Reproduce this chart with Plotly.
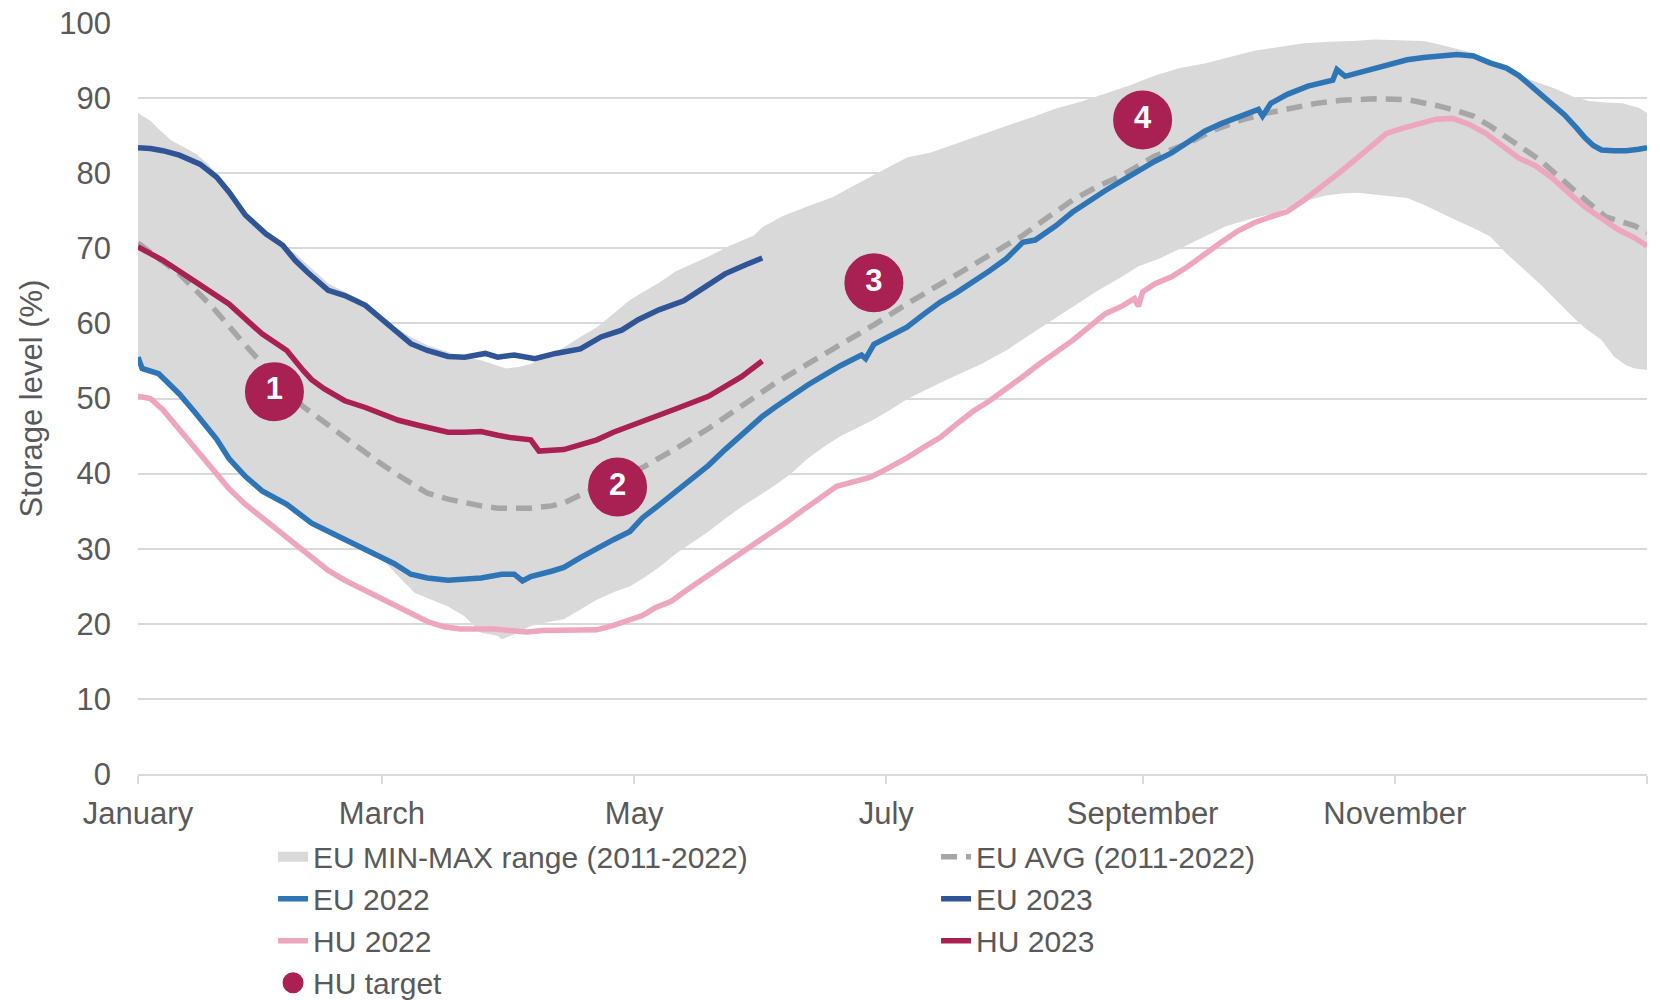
import plotly.graph_objects as go

# day-of-year (0 = 1 January) and storage level (%)
band_max_days = [0, 3, 5, 8, 11, 14, 17, 19, 23, 26, 30, 34, 38, 42, 46, 50, 54, 58, 62, 66, 70, 75, 79,
                 83, 86, 89, 92, 95, 99, 103, 107, 111, 115, 119, 122, 126, 130, 134, 138, 143, 149, 151,
                 156, 162, 168, 174, 180, 186, 192, 198, 204, 210, 216, 222, 228, 234, 240, 246, 252, 258,
                 264, 270, 276, 282, 288, 294, 299, 305, 311, 315, 319, 323, 327, 331, 335, 339, 343, 347,
                 351, 355, 359, 363, 365]
band_max = [88.0, 87.0, 85.9, 84.4, 83.5, 82.6, 81.2, 79.9, 77.3, 74.6, 72.3, 70.8, 69.3, 67.3, 65.3, 64.2,
            63.1, 61.0, 59.5, 58.2, 57.1, 56.2, 55.5, 55.1, 54.5, 54.0, 54.2, 54.6, 55.6, 56.8, 58.2, 59.5,
            61.3, 63.1, 64.1, 65.4, 66.9, 67.9, 68.9, 70.3, 71.7, 72.8, 74.3, 75.6, 76.8, 78.6, 80.3, 82.1,
            82.8, 84.0, 85.2, 86.3, 87.4, 88.6, 89.5, 90.6, 91.7, 93.0, 94.0, 94.6, 95.4, 96.3, 96.8, 97.3,
            97.5, 97.6, 97.8, 97.7, 97.6, 97.1, 96.6, 96.0, 95.0, 93.8, 92.8, 92.0, 91.2, 90.2, 89.6, 89.4,
            89.3, 88.7, 88.0]

band_min_days = [0, 1, 5, 10, 14, 19, 22, 26, 30, 36, 42, 50, 58, 60, 63, 67, 71, 75, 79, 83, 87, 88, 91,
                 95, 99, 103, 107, 111, 115, 119, 122, 126, 130, 134, 138, 142, 146, 150, 154, 158, 162,
                 166, 170, 174, 178, 182, 186, 190, 196, 204, 210, 216, 222, 226, 232, 238, 242, 247, 253,
                 258, 263, 269, 275, 279, 283, 287, 291, 295, 299, 303, 307, 311, 315, 319, 323, 327, 331,
                 335, 339, 343, 347, 350, 354, 357, 360, 362, 365]
band_min = [55.1, 53.6, 52.9, 50.2, 47.6, 44.2, 41.6, 39.2, 37.3, 35.5, 33.0, 30.8, 28.8, 28.1, 26.3, 24.1,
            23.2, 22.3, 21.0, 18.8, 18.4, 17.9, 18.6, 19.7, 20.2, 20.6, 21.9, 23.2, 24.2, 25.0, 26.0, 27.5,
            29.3, 30.8, 32.3, 34.0, 35.6, 37.0, 38.4, 40.0, 42.0, 43.6, 45.0, 46.1, 47.2, 48.5, 49.9, 51.0,
            52.6, 54.6, 56.4, 58.6, 60.7, 62.2, 64.3, 66.2, 67.6, 68.6, 70.2, 71.6, 72.9, 73.9, 74.7, 75.6,
            76.4, 77.0, 77.3, 77.4, 77.2, 77.0, 76.7, 75.8, 74.7, 73.7, 72.7, 71.6, 69.3, 67.3, 65.3, 63.1,
            60.9, 59.4, 57.8, 55.6, 54.4, 54.0, 53.8]

avg_days = [0, 5, 10, 14, 18, 25, 30, 35, 40, 45, 50, 56, 62, 66, 70, 75, 79, 83, 87, 95, 100, 103, 108,
            113, 118, 122, 130, 138, 146, 154, 162, 170, 178, 186, 194, 202, 210, 214, 220, 226, 232, 238,
            246, 254, 260, 267, 273, 279, 285, 291, 299, 307, 311, 315, 319, 323, 327, 331, 335, 339, 343,
            347, 351, 355, 359, 362, 365]
eu_avg = [70.7, 68.6, 66.6, 64.4, 62.2, 57.7, 54.6, 51.6, 48.9, 46.8, 44.8, 42.4, 40.1, 38.7, 37.4, 36.6,
          36.1, 35.7, 35.4, 35.4, 35.7, 36.1, 37.4, 38.6, 40.0, 40.8, 43.3, 46.0, 49.0, 52.0, 54.6, 57.1,
          59.8, 62.6, 65.2, 67.7, 70.4, 71.7, 74.1, 76.4, 78.2, 79.7, 82.3, 84.0, 85.7, 87.1, 88.0, 88.7,
          89.3, 89.7, 89.9, 89.8, 89.4, 88.9, 88.3, 87.6, 86.3, 84.7, 83.3, 81.8, 79.8, 77.8, 76.0, 74.2,
          73.5, 73.0, 72.1]

eu22_days = [0, 1, 5, 10, 14, 19, 22, 26, 30, 36, 42, 50, 58, 62, 66, 70, 75, 79, 83, 88, 91, 93, 95, 100,
             103, 107, 111, 115, 119, 122, 126, 130, 134, 138, 142, 146, 151, 154, 158, 162, 166, 170, 175,
             176, 178, 182, 186, 190, 194, 198, 202, 206, 210, 214, 217, 222, 226, 230, 234, 238, 242, 246,
             250, 254, 258, 262, 267, 271, 272, 274, 278, 283, 289, 290, 292, 296, 299, 303, 307, 311, 315,
             319, 323, 327, 331, 334, 337, 341, 345, 348, 350, 352, 354, 357, 360, 363, 365]
eu_2022 = [55.5, 54.0, 53.3, 50.6, 48.0, 44.6, 42.0, 39.6, 37.7, 35.9, 33.4, 31.2, 29.2, 28.0, 26.6, 26.1,
           25.8, 25.9, 26.1, 26.6, 26.6, 25.7, 26.3, 27.0, 27.5, 28.8, 30.1, 31.2, 32.3, 34.1, 35.8, 37.6,
           39.3, 41.1, 43.2, 45.2, 47.6, 48.8, 50.4, 51.8, 53.1, 54.4, 55.8, 55.3, 57.2, 58.3, 59.5, 61.2,
           62.8, 64.1, 65.5, 67.0, 68.6, 70.8, 71.1, 73.0, 74.8, 76.3, 77.7, 79.0, 80.4, 81.6, 82.7, 84.1,
           85.6, 86.6, 87.7, 88.5, 87.6, 89.3, 90.5, 91.6, 92.4, 93.8, 92.9, 93.5, 94.0, 94.6, 95.1, 95.4,
           95.6, 95.8, 95.6, 94.7, 94.0, 93.0, 91.6, 89.8, 87.8, 86.0, 84.7, 83.7, 83.1, 83.0, 83.0, 83.2,
           83.4]

eu23_days = [0, 3, 6, 10, 15, 19, 22, 26, 31, 35, 38, 41, 46, 50, 55, 60, 66, 70, 75, 79, 84, 87, 91, 96,
             101, 107, 112, 117, 121, 126, 132, 137, 142, 147, 151]
eu_2023 = [83.4, 83.3, 83.0, 82.4, 81.2, 79.5, 77.5, 74.4, 71.9, 70.4, 68.4, 66.8, 64.4, 63.7, 62.4, 60.0,
           57.3, 56.4, 55.6, 55.5, 56.0, 55.5, 55.8, 55.3, 56.0, 56.6, 58.2, 59.1, 60.5, 61.8, 63.0, 64.8,
           66.6, 67.8, 68.7]

hu22_days = [0, 3, 6, 10, 14, 18, 22, 26, 30, 34, 38, 42, 46, 50, 54, 58, 62, 66, 70, 74, 78, 82, 86, 90,
             94, 98, 103, 107, 111, 115, 119, 122, 125, 129, 133, 137, 141, 145, 149, 153, 157, 161, 165,
             169, 173, 177, 180, 183, 186, 190, 194, 198, 202, 206, 210, 214, 218, 222, 226, 230, 234, 238,
             241, 242, 243, 246, 250, 254, 258, 262, 266, 270, 274, 278, 282, 286, 290, 294, 298, 302, 306,
             310, 314, 318, 322, 326, 330, 334, 338, 342, 346, 350, 354, 358, 362, 365]
hu_2022 = [50.3, 50.0, 48.5, 45.9, 43.2, 40.5, 38.0, 35.9, 34.1, 32.4, 30.7, 28.9, 27.1, 25.8, 24.7, 23.6,
           22.4, 21.3, 20.3, 19.6, 19.3, 19.3, 19.3, 19.1, 18.9, 19.1, 19.2, 19.1, 19.2, 19.8, 20.6, 21.1,
           22.1, 23.0, 24.6, 26.1, 27.5, 28.9, 30.5, 32.0, 33.6, 35.2, 36.8, 38.3, 38.9, 39.5, 40.3, 41.1,
           42.1, 43.5, 44.8, 46.6, 48.3, 49.7, 51.2, 52.9, 54.6, 56.1, 57.7, 59.5, 61.3, 62.3, 63.3, 62.3,
           64.2, 65.3, 66.2, 67.6, 69.3, 70.8, 72.3, 73.4, 74.2, 74.9, 76.4, 78.0, 79.8, 81.6, 83.5, 85.3,
           86.0, 86.6, 87.2, 87.3, 86.5, 85.3, 83.7, 82.0, 81.0, 79.4, 77.4, 75.5, 74.0, 72.5, 71.4, 70.3]

hu23_days = [0, 6, 14, 22, 30, 36, 40, 42, 45, 50, 55, 60, 63, 68, 75, 79, 83, 87, 90, 95, 96, 97, 103, 107,
             111, 115, 119, 124, 130, 138, 146, 151]
hu_2023 = [70.2, 68.4, 65.5, 62.6, 58.6, 56.4, 53.7, 52.5, 51.3, 49.7, 48.8, 47.8, 47.1, 46.4, 45.5, 45.5,
           45.6, 45.1, 44.8, 44.5, 43.6, 43.0, 43.2, 43.8, 44.5, 45.5, 46.3, 47.4, 48.6, 50.3, 52.9, 55.0]

target_days = [33, 116, 178, 243]
target_levels = [50.9, 38.2, 65.4, 87.1]
target_labels = ['1', '2', '3', '4']

month_ticks = [0, 59, 120, 181, 243, 304, 365]
month_labels = ['January', 'March', 'May', 'July', 'September', 'November', '']

colors = {
    'band': '#D9D9D9',
    'avg': '#A6A6A6',
    'eu22': '#2E75B6',
    'eu23': '#2F5597',
    'hu22': '#EEA5BE',
    'hu23': '#A82152',
    'text': '#595959',
    'grid': '#D9D9D9',
}
FONT = 'Arial, Liberation Sans, sans-serif'
LW = 5.5

fig = go.Figure()

# legend-only entry for the band (a wide grey patch, like the original key)
fig.add_trace(go.Scatter(x=[None], y=[None], mode='lines', name='EU MIN-MAX range (2011-2022)',
                         line=dict(color=colors['band'], width=10)))

# min-max band: upper edge first, then lower edge filled to it
fig.add_trace(go.Scatter(x=band_max_days, y=band_max, mode='lines', line=dict(width=0, color=colors['band']),
                         showlegend=False, hoverinfo='skip'))
fig.add_trace(go.Scatter(x=band_min_days, y=band_min, mode='lines', line=dict(width=0, color=colors['band']),
                         fill='tonexty', fillcolor=colors['band'], showlegend=False,
                         name='EU MIN-MAX range (2011-2022)'))

fig.add_trace(go.Scatter(x=avg_days, y=eu_avg, mode='lines', name='EU AVG (2011-2022)',
                         line=dict(color=colors['avg'], width=LW, dash='16px,9px')))
fig.add_trace(go.Scatter(x=eu22_days, y=eu_2022, mode='lines', name='EU 2022',
                         line=dict(color=colors['eu22'], width=LW)))
fig.add_trace(go.Scatter(x=eu23_days, y=eu_2023, mode='lines', name='EU 2023',
                         line=dict(color=colors['eu23'], width=LW)))
fig.add_trace(go.Scatter(x=hu22_days, y=hu_2022, mode='lines', name='HU 2022',
                         line=dict(color=colors['hu22'], width=LW)))
fig.add_trace(go.Scatter(x=hu23_days, y=hu_2023, mode='lines', name='HU 2023',
                         line=dict(color=colors['hu23'], width=LW)))

# numbered target markers
fig.add_trace(go.Scatter(x=target_days, y=target_levels, mode='markers', name='HU target',
                         marker=dict(size=54, color=colors['hu23'], line=dict(width=5, color=colors['hu23']))))
fig.add_trace(go.Scatter(x=target_days, y=target_levels, mode='text', text=target_labels,
                         textposition='middle center', showlegend=False, hoverinfo='skip',
                         textfont=dict(family=FONT, size=31, color='white', weight='bold')))

fig.update_layout(
    width=1660,
    height=1000,
    margin=dict(l=138, r=13, t=23, b=226, autoexpand=False),
    plot_bgcolor='white',
    paper_bgcolor='white',
    font=dict(family=FONT, size=31, color=colors['text']),
    showlegend=True,
    legend=dict(
        orientation='h',
        x=0.0895, xanchor='left',
        y=-0.0755, yanchor='top',
        entrywidth=618, entrywidthmode='pixels',
        font=dict(family=FONT, size=30, color=colors['text']),
        bgcolor='rgba(0,0,0,0)',
        traceorder='normal',
    ),
)

fig.update_xaxes(
    range=[0, 365],
    tickmode='array', tickvals=month_ticks, ticktext=month_labels,
    ticks='outside', ticklen=8, tickwidth=2, tickcolor=colors['grid'],
    showgrid=False, zeroline=False,
    showline=True, linecolor=colors['grid'], linewidth=2,
    ticklabelstandoff=3,
    tickfont=dict(size=31, color=colors['text']),
)
fig.update_yaxes(
    range=[0, 100], dtick=10,
    showgrid=True, gridcolor=colors['grid'], gridwidth=2,
    zeroline=False, showline=False, ticks='',
    ticklabelstandoff=26,
    tickfont=dict(size=31, color=colors['text']),
    title=dict(text='Storage level (%)', font=dict(size=31, color=colors['text']), standoff=7),
)

# drop the default page margin so the figure sits at the window's top-left corner
fig.write_html('out.html', config={'displayModeBar': False},
               post_script='document.body.style.margin = "0px";')
